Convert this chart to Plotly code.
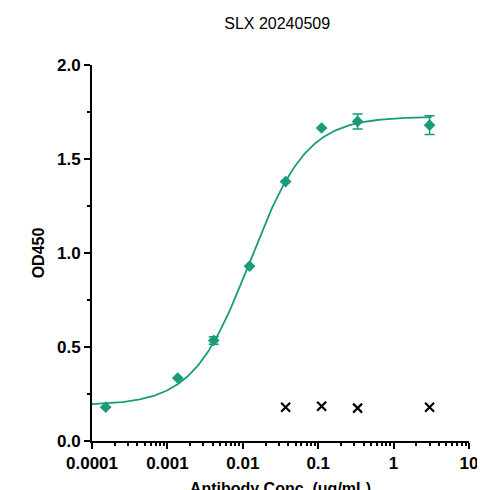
import numpy as np
import plotly.graph_objects as go

conc = [0.000152, 0.00137, 0.00412, 0.0123, 0.037, 0.111, 0.333, 3.0]
od = [0.18, 0.335, 0.535, 0.93, 1.38, 1.665, 1.70, 1.68]
err = [0.0, 0.0, 0.02, 0.0, 0.0, 0.0, 0.04, 0.05]
neg_conc = [0.037, 0.111, 0.333, 3.0]
neg_od = [0.18, 0.185, 0.175, 0.18]
# 4PL fit parameters
bottom, top, ec50, hill = 0.19, 1.725, 0.0125, 1.15

xf = np.logspace(-4, np.log10(3.2), 300)
yf = bottom + (top - bottom) / (1 + (ec50 / xf) ** hill)
green = "#1a9b7a"
fig = go.Figure()
fig.add_trace(go.Scatter(x=xf, y=yf, mode="lines", line=dict(color=green, width=1.8), showlegend=False))
fig.add_trace(go.Scatter(x=conc, y=od, mode="markers",
    marker=dict(symbol="diamond", size=9, color=green),
    error_y=dict(type="data", array=err, color=green, thickness=1.5, width=5), showlegend=False))
fig.add_trace(go.Scatter(x=neg_conc, y=neg_od, mode="markers",
    marker=dict(symbol="x-thin", size=9, line=dict(width=2.2, color="black")), showlegend=False))
font = dict(family="Arial, Liberation Sans", size=16, color="black")
tfont = dict(family="Arial, Liberation Sans", size=17, color="black")
fig.update_layout(width=485, height=490, plot_bgcolor="white", paper_bgcolor="white",
    margin=dict(l=84, r=24, t=57, b=57),
    title=dict(text="SLX 20240509", x=0.555, xanchor="center", y=0.968, yanchor="middle",
               font=dict(family="Arial, Liberation Sans", size=16, color="black")),
    xaxis=dict(type="log", range=[-4, 1], showgrid=False, showline=True, linecolor="black", linewidth=2,
        ticks="outside", ticklen=6, tickwidth=2, tickcolor="black", automargin=False,
        tickvals=[1e-4, 1e-3, 1e-2, 0.1, 1, 10], ticktext=["<b>0.0001</b>", "<b>0.001</b>", "<b>0.01</b>", "<b>0.1</b>", "<b>1</b>", "<b>10</b>"],
        minor=dict(ticks="outside", ticklen=3, tickwidth=1.5, tickcolor="black", dtick="D1"),
        tickfont=tfont,
        title=dict(text="<b>Antibody Conc. (ug/mL)</b>", font=font, standoff=10), zeroline=False),
    yaxis=dict(range=[0, 2.0], showgrid=False, showline=True, linecolor="black", linewidth=2,
        ticks="outside", ticklen=6, tickwidth=2, tickcolor="black", automargin=False,
        tickvals=[0, 0.5, 1.0, 1.5, 2.0], ticktext=["<b>0.0</b>", "<b>0.5</b>", "<b>1.0</b>", "<b>1.5</b>", "<b>2.0</b>"],
        minor=dict(ticks="outside", ticklen=3, tickwidth=1.5, tickcolor="black", tickvals=[0.25, 0.75, 1.25, 1.75]),
        tickfont=tfont,
        title=dict(text="<b>OD450</b>", font=font, standoff=8), zeroline=False))
fig.write_html("out.html")
